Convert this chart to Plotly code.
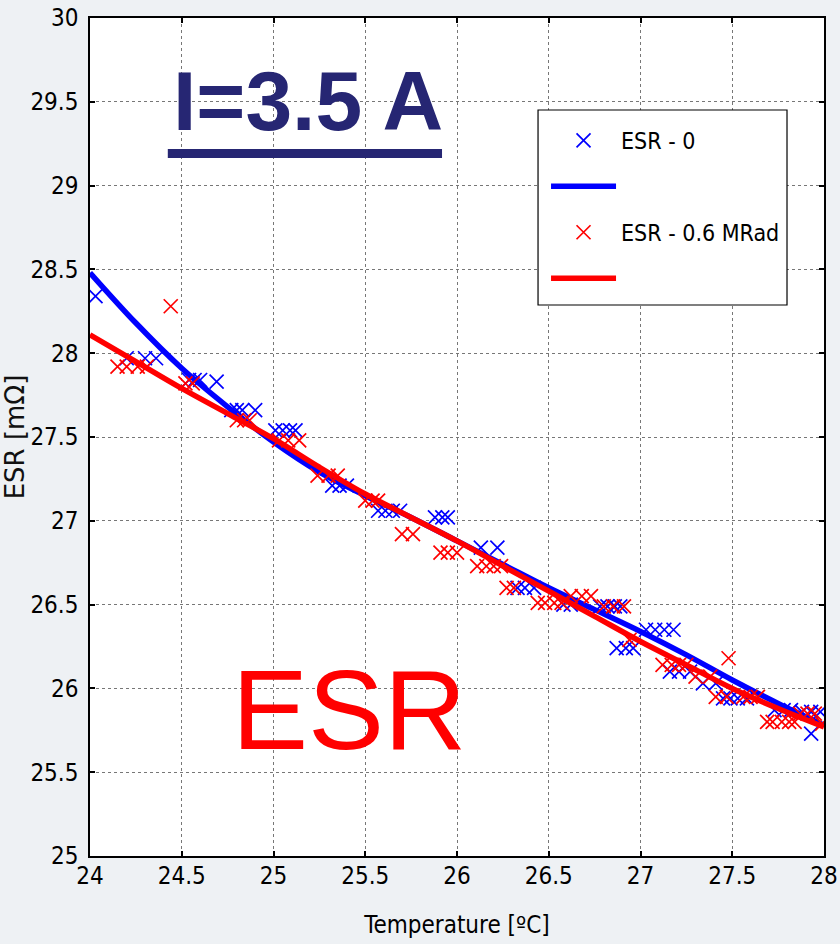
import plotly.graph_objects as go

# ---- data ----
blue_x = [24.03, 24.20, 24.30, 24.36, 24.54, 24.57, 24.60, 24.69, 24.77, 24.80, 24.83, 24.90,
          25.01, 25.05, 25.09, 25.12, 25.32, 25.36, 25.40, 25.57, 25.61, 25.65, 25.69,
          25.88, 25.92, 25.95, 26.13, 26.22, 26.33, 26.37, 26.42, 26.58, 26.62,
          26.78, 26.82, 26.86, 26.89, 26.87, 26.92, 26.96, 27.03, 27.08, 27.13, 27.18,
          27.16, 27.21, 27.27, 27.34, 27.41, 27.45, 27.49, 27.53, 27.58,
          27.73, 27.78, 27.82, 27.88, 27.93, 27.98, 27.93]
blue_y = [28.34, 27.97, 27.97, 27.97, 27.84, 27.84, 27.84, 27.83, 27.66, 27.66, 27.66, 27.66,
          27.54, 27.54, 27.54, 27.54, 27.21, 27.21, 27.21, 27.06, 27.06, 27.06, 27.06,
          27.02, 27.02, 27.02, 26.84, 26.84, 26.60, 26.60, 26.60, 26.50, 26.50,
          26.49, 26.49, 26.49, 26.49, 26.24, 26.24, 26.24, 26.35, 26.35, 26.35, 26.35,
          26.10, 26.10, 26.10, 26.03, 26.03, 25.94, 25.94, 25.94, 25.94,
          25.87, 25.87, 25.87, 25.86, 25.86, 25.86, 25.73]

red_x = [24.15, 24.20, 24.26, 24.31, 24.44, 24.52, 24.56, 24.80, 24.84, 24.87,
         25.03, 25.08, 25.14, 25.24, 25.30, 25.35, 25.50, 25.54, 25.57, 25.70, 25.76,
         25.91, 25.95, 26.00, 26.11, 26.16, 26.20, 26.24, 26.27, 26.31,
         26.44, 26.48, 26.53, 26.57, 26.62, 26.68, 26.73, 26.80, 26.85, 26.91, 26.94,
         27.12, 27.17, 27.21, 27.25, 27.30, 27.38, 27.48, 27.41, 27.47,
         27.56, 27.60, 27.64, 27.69, 27.72, 27.77, 27.81, 27.84, 27.87, 27.91, 27.95, 27.99]
red_y = [27.92, 27.92, 27.92, 27.92, 28.28, 27.82, 27.82, 27.60, 27.60, 27.60,
         27.48, 27.48, 27.48, 27.27, 27.27, 27.27, 27.12, 27.12, 27.12, 26.92, 26.92,
         26.81, 26.81, 26.81, 26.73, 26.73, 26.73, 26.73, 26.60, 26.60,
         26.51, 26.51, 26.51, 26.51, 26.55, 26.55, 26.55, 26.49, 26.49, 26.49, 26.29,
         26.14, 26.14, 26.14, 26.14, 26.07, 26.07, 26.18, 25.95, 25.95,
         25.95, 25.95, 25.95, 25.80, 25.80, 25.80, 25.80, 25.80, 25.85, 25.85, 25.85, 25.79]

fit_x = [24.0, 24.25, 24.5, 24.75, 25.0, 25.25, 25.5, 25.75, 26.0, 26.25, 26.5,
         26.75, 27.0, 27.25, 27.5, 27.75, 28.0]
fit_blue = [28.48, 28.18, 27.91, 27.68, 27.47, 27.29, 27.15, 27.02, 26.88, 26.74, 26.60,
            26.47, 26.34, 26.20, 26.05, 25.91, 25.78]
fit_red = [28.11, 27.95, 27.79, 27.64, 27.49, 27.32, 27.16, 27.02, 26.88, 26.73, 26.58,
           26.43, 26.28, 26.14, 26.00, 25.88, 25.77]

x_ticks = [24, 24.5, 25, 25.5, 26, 26.5, 27, 27.5, 28]
y_ticks = [25, 25.5, 26, 26.5, 27, 27.5, 28, 28.5, 29, 29.5, 30]

NARROW = "DejaVu Sans Condensed, Liberation Sans Narrow, sans-serif"
BLUE = "#0000ff"
RED = "#ff0000"

fig = go.Figure()
fig.add_trace(go.Scatter(x=blue_x, y=blue_y, mode="markers", name="ESR - 0",
                         legendgroup="a",
                         marker=dict(symbol="x-thin-open", size=14,
                                     line=dict(color=BLUE, width=1.7), color=BLUE)))
fig.add_trace(go.Scatter(x=fit_x, y=fit_blue, mode="lines", name=" ", legendgroup="b",
                         line=dict(color=BLUE, width=5.5, shape="spline")))
fig.add_trace(go.Scatter(x=red_x, y=red_y, mode="markers", name="ESR - 0.6 MRad",
                         legendgroup="c",
                         marker=dict(symbol="x-thin-open", size=14,
                                     line=dict(color=RED, width=1.7), color=RED)))
fig.add_trace(go.Scatter(x=fit_x, y=fit_red, mode="lines", name=" ", legendgroup="d",
                         line=dict(color=RED, width=5.5, shape="spline")))

axis_common = dict(showline=True, linecolor="black", linewidth=1.5, mirror="ticks",
                   ticks="inside", ticklen=5, tickcolor="black", tickwidth=1.5,
                   showgrid=True, gridcolor="#777777", gridwidth=1, griddash="dot",
                   zeroline=False, ticklabeloverflow="allow", automargin=False,
                   tickfont=dict(family=NARROW, size=24, color="black"))

fig.update_xaxes(range=[24, 28], tickvals=x_ticks, ticktext=[f"{v:g}" for v in x_ticks],
                 ticklabelstandoff=-3,
                 title=dict(text="Temperature [ºC]", font=dict(family=NARROW, size=24, color="black"),
                            standoff=28),
                 **axis_common)
fig.update_yaxes(range=[25, 30], tickvals=y_ticks, ticktext=[f"{v:g}" for v in y_ticks],
                 ticklabelstandoff=5,
                 title=dict(text="ESR [mΩ]", font=dict(family="DejaVu Sans", size=26, color="#111111"),
                            standoff=0),
                 **axis_common)

fig.update_layout(
    width=840, height=944,
    margin=dict(l=90, r=16, t=18, b=88, autoexpand=False),
    paper_bgcolor="#eef1f4", plot_bgcolor="white",
    showlegend=True,
    legend=dict(x=0.6213, y=0.8795, xanchor="left", yanchor="top",
                bgcolor="rgba(0,0,0,0)", borderwidth=0,
                font=dict(family=NARROW, size=23, color="black"),
                traceorder="grouped", tracegroupgap=13, itemwidth=65),
    annotations=[
        dict(text="<b>I=3.5 A</b>", xref="paper", yref="paper", x=0.111, y=0.8425,
             xanchor="left", yanchor="bottom", showarrow=False,
             font=dict(family="Liberation Sans, Arial, sans-serif", size=84, color="#262673")),
        dict(text="ESR", xref="paper", yref="paper", x=0.353, y=0.175,
             xanchor="center", yanchor="middle", showarrow=False,
             font=dict(family="Liberation Sans, Arial, sans-serif", size=114, color=RED)),
    ],
    shapes=[
        dict(type="rect", xref="paper", yref="paper", x0=0.106, x1=0.4796,
             y0=0.8329, y1=0.8437, fillcolor="#262673", line=dict(width=0), layer="above"),
        dict(type="rect", xref="paper", yref="paper", x0=0.6104, x1=0.9496,
             y0=0.6575, y1=0.8902, fillcolor="white", line=dict(color="black", width=1.2),
             layer="above"),
    ],
)

fig.write_html("out.html")
